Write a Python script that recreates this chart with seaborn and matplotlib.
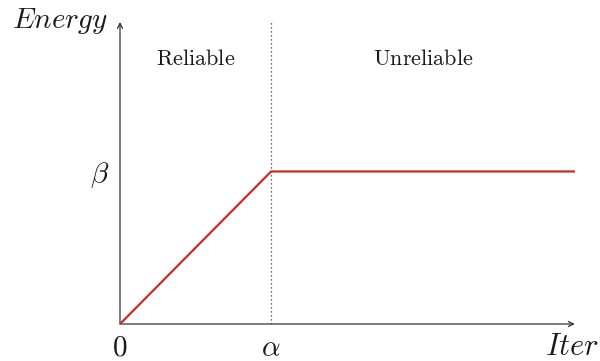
import matplotlib
matplotlib.use("Agg")
import matplotlib.pyplot as plt
import seaborn as sns
import pandas as pd

# Energy profile: linear growth up to alpha, then constant at beta
iters = [0.0, 1.0, 3.01]
energy = [0.0, 1.0, 1.0]
xtick_pos = [0.0, 1.0]
xtick_labels = ["$0$", r"$\alpha$"]
ytick_pos = [1.0]
ytick_labels = [r"$\beta$"]
region_labels = ["Reliable", "Unreliable"]
region_x = [0.5, 2.01]

sns.set_style("white")
plt.rcParams["mathtext.fontset"] = "cm"
plt.rcParams["font.family"] = ["DejaVu Serif"]

df = pd.DataFrame({"Iter": iters, "Energy": energy})

fig = plt.figure(figsize=(6.0, 3.61), dpi=100)
ax = fig.add_axes([0.2, 0.1025, 0.758, 0.8366])
xmax, ymax = 3.01, 1.98

sns.lineplot(data=df, x="Iter", y="Energy", ax=ax, color="#cc2a2a",
             linewidth=1.6, zorder=3)

# boundary between the two regions
ax.plot([1.0, 1.0], [0, ymax], color="#333333", linewidth=0.9,
        linestyle=(0, (1, 2.2)), zorder=2)

ax.set_xlim(0, xmax)
ax.set_ylim(0, ymax)
for s in ax.spines.values():
    s.set_visible(False)

# axes drawn as arrows
arrow = dict(arrowstyle="->", color="#333333", lw=0.9,
             shrinkA=0, shrinkB=0, mutation_scale=9)
ax.annotate("", xy=(xmax, 0), xytext=(0, 0), arrowprops=arrow,
            annotation_clip=False, zorder=1)
ax.annotate("", xy=(0, ymax), xytext=(0, 0), arrowprops=arrow,
            annotation_clip=False, zorder=1)

ax.set_xticks(xtick_pos)
ax.set_xticklabels(xtick_labels, fontsize=21, color="#1a1a1a")
ax.set_yticks(ytick_pos)
ax.set_yticklabels(ytick_labels, fontsize=21, color="#1a1a1a")
ax.tick_params(axis="x", length=0, pad=7)
ax.tick_params(axis="y", length=0, pad=8)
ax.set_xlabel("")
ax.set_ylabel("")

ax.text(2.815, -0.15, "$Iter$", fontsize=22, ha="left", va="center",
        clip_on=False, color="#1a1a1a")
ax.text(-0.4, 1.985, "$Energy$", fontsize=21, ha="center", va="center",
        clip_on=False, color="#1a1a1a")

for lab, xpos in zip(region_labels, region_x):
    ax.text(xpos, 1.737, r"$\mathrm{%s}$" % lab, fontsize=16,
            ha="center", va="center", color="#1a1a1a")

fig.savefig("out.png", dpi=100)
